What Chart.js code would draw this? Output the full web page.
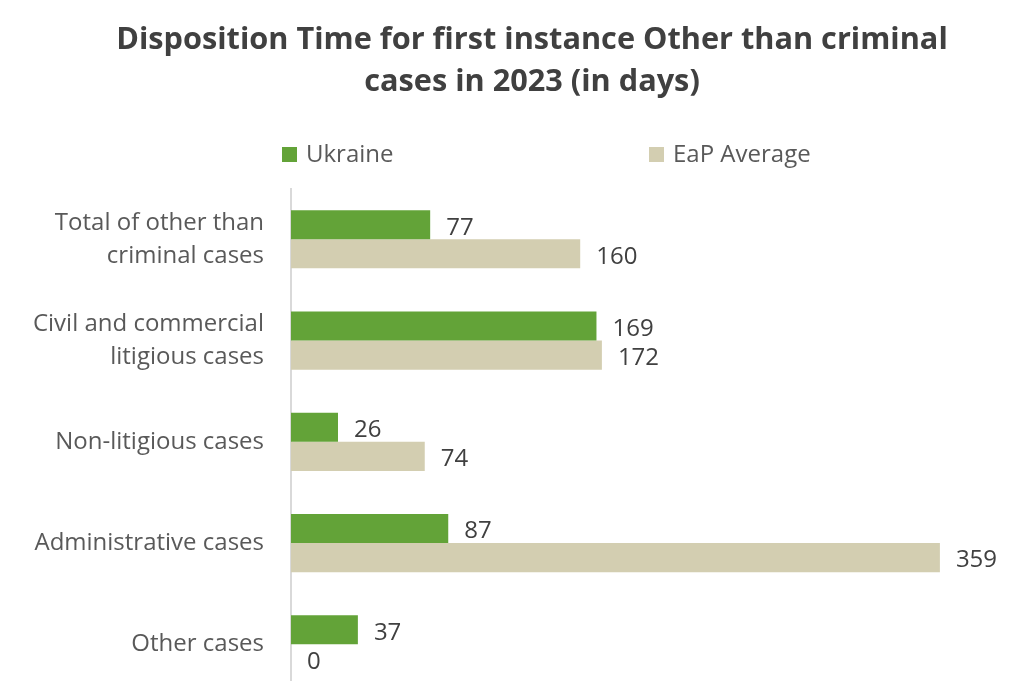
<!DOCTYPE html>
<html>
<head>
<meta charset="utf-8">
<script src="https://cdn.jsdelivr.net/npm/chart.js@4/dist/chart.umd.min.js"></script>
<style>
  html, body { margin: 0; padding: 0; background: #fff; overflow: hidden; }
  #wrap { width: 1031px; height: 700px; }
</style>
</head>
<body>
<div id="wrap"><canvas id="dispositionChart" width="1031" height="700"></canvas></div>
<script>
// Disposition time, first instance, other than criminal cases (days)
const categories = [
  ['Total of other than', 'criminal cases'],
  ['Civil and commercial', 'litigious cases'],
  'Non-litigious cases',
  'Administrative cases',
  'Other cases'
];
const ukraineDays = [77, 169, 26, 87, 37];
const eapAverageDays = [160, 172, 74, 359, 0];
const seriesNames = ['Ukraine', 'EaP Average'];
const seriesColors = ['#63a338', '#d3ceb1'];

const FONT = "'Open Sans', sans-serif";

// value printed just past the end of each bar
const barValueLabels = {
  id: 'barValueLabels',
  afterDatasetsDraw(chart) {
    const ctx = chart.ctx;
    ctx.save();
    ctx.font = '24px ' + FONT;
    ctx.fillStyle = '#404040';
    ctx.textAlign = 'left';
    ctx.textBaseline = 'middle';
    chart.data.datasets.forEach((ds, i) => {
      chart.getDatasetMeta(i).data.forEach((bar, j) => {
        ctx.fillText(String(ds.data[j]), bar.x + 16, bar.y + 3);
      });
    });
    ctx.restore();
  }
};

// legend with the two items spread apart
const spreadLegend = {
  id: 'spreadLegend',
  afterDraw(chart) {
    const ctx = chart.ctx;
    const xs = [282, 649];
    const y = 154.5;
    ctx.save();
    ctx.font = '24px ' + FONT;
    ctx.textBaseline = 'middle';
    ctx.textAlign = 'left';
    chart.data.datasets.forEach((ds, i) => {
      ctx.fillStyle = ds.backgroundColor;
      ctx.fillRect(xs[i], y - 7.5, 15, 15);
      ctx.fillStyle = '#595959';
      ctx.fillText(ds.label, xs[i] + 24, y + 1);
    });
    ctx.restore();
  }
};

// nudge the title block so it centres over the plot rather than the canvas
const titleOffset = {
  id: 'titleOffset',
  afterLayout(chart) {
    if (chart.titleBlock) chart.titleBlock.left += 50;
  }
};

new Chart(document.getElementById('dispositionChart').getContext('2d'), {
  type: 'bar',
  data: {
    labels: categories,
    datasets: [
      { label: seriesNames[0], data: ukraineDays, backgroundColor: seriesColors[0] },
      { label: seriesNames[1], data: eapAverageDays, backgroundColor: seriesColors[1] }
    ]
  },
  options: {
    responsive: false,
    animation: false,
    indexAxis: 'y',
    categoryPercentage: 0.575,
    barPercentage: 1,
    layout: { padding: { left: 0, right: 17, top: 0, bottom: 5 } },
    scales: {
      x: { display: false, min: 0, max: 400 },
      y: {
        afterFit: scale => {
          scale.width = 291;
          scale.paddingTop = 0;
          scale.paddingBottom = 0;
        },
        grid: { display: false, drawTicks: false },
        border: { display: true, color: '#d9d9d9', width: 2 },
        ticks: { color: '#595959', padding: 27, font: { family: FONT, size: 24, lineHeight: 1.375 } }
      }
    },
    plugins: {
      legend: { display: false },
      tooltip: { enabled: false },
      title: {
        display: true,
        text: ['Disposition Time for first instance Other than criminal', 'cases in 2023 (in days)'],
        color: '#404040',
        font: { family: FONT, size: 30.7, weight: 'bold', lineHeight: 1.37 },
        padding: { top: 19, bottom: 85.5 }
      }
    }
  },
  plugins: [barValueLabels, spreadLegend, titleOffset]
});
</script>
</body>
</html>
